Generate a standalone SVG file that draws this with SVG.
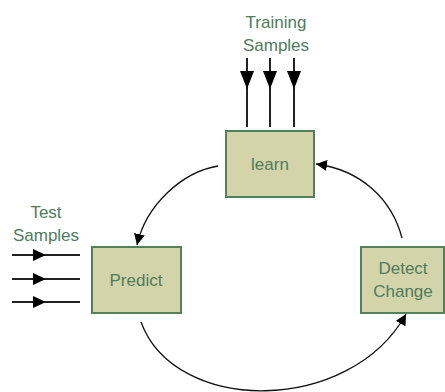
<svg xmlns="http://www.w3.org/2000/svg" width="445" height="392" viewBox="0 0 445 392">
<defs>
<style>
.box{fill:#d4d4aa;stroke:#52805a;stroke-width:2}
.lbl{font-family:"Liberation Sans",Arial,sans-serif;font-size:17px;fill:#4e7c5c;text-anchor:middle}
.ln{stroke:#111;stroke-width:1.3;fill:none}
.in{stroke:#222;stroke-width:2;fill:none}
</style>
<marker id="ah" viewBox="0 0 10 10" refX="10" refY="5" markerWidth="11" markerHeight="11" markerUnits="userSpaceOnUse" orient="auto">
<path d="M0,0 L10,5 L0,10 z" fill="#000"/>
</marker>
</defs>
<g id="connectors">
<path class="ln" d="M218,166 C182,172 146,205 137,245" marker-end="url(#ah)"/>
<path class="ln" d="M402,238 C392,200 362,170 316,164" marker-end="url(#ah)"/>
<path class="ln" d="M141,322 C175,415 350,415 406,314" marker-end="url(#ah)"/>
<path class="in" d="M247,58 V127"/>
<path class="in" d="M270,58 V127"/>
<path class="in" d="M294,58 V127"/>
<path d="M240,71 L254,71 L247,89 z" fill="#000"/>
<path d="M263,71 L277,71 L270,89 z" fill="#000"/>
<path d="M287,71 L301,71 L294,89 z" fill="#000"/>
<path class="in" d="M12,255 H80"/>
<path class="in" d="M12,279 H80"/>
<path class="in" d="M12,302 H80"/>
<path d="M33,249 L33,261 L46,255 z" fill="#000"/>
<path d="M33,273 L33,285 L46,279 z" fill="#000"/>
<path d="M33,296 L33,308 L46,302 z" fill="#000"/>
</g>
<g id="training">
<text class="lbl" x="276" y="28">Training</text>
<text class="lbl" x="276" y="51">Samples</text>
</g>
<g id="test">
<text class="lbl" x="46" y="218">Test</text>
<text class="lbl" x="46" y="241">Samples</text>
</g>
<g id="learn">
<rect class="box" x="226" y="131" width="88" height="66"/>
<text class="lbl" x="270" y="170">learn</text>
</g>
<g id="predict">
<rect class="box" x="92" y="247" width="89" height="66"/>
<text class="lbl" x="136" y="286">Predict</text>
</g>
<g id="detect">
<rect class="box" x="361" y="247" width="83" height="66"/>
<text class="lbl" x="403" y="274">Detect</text>
<text class="lbl" x="403" y="297">Change</text>
</g>
</svg>
